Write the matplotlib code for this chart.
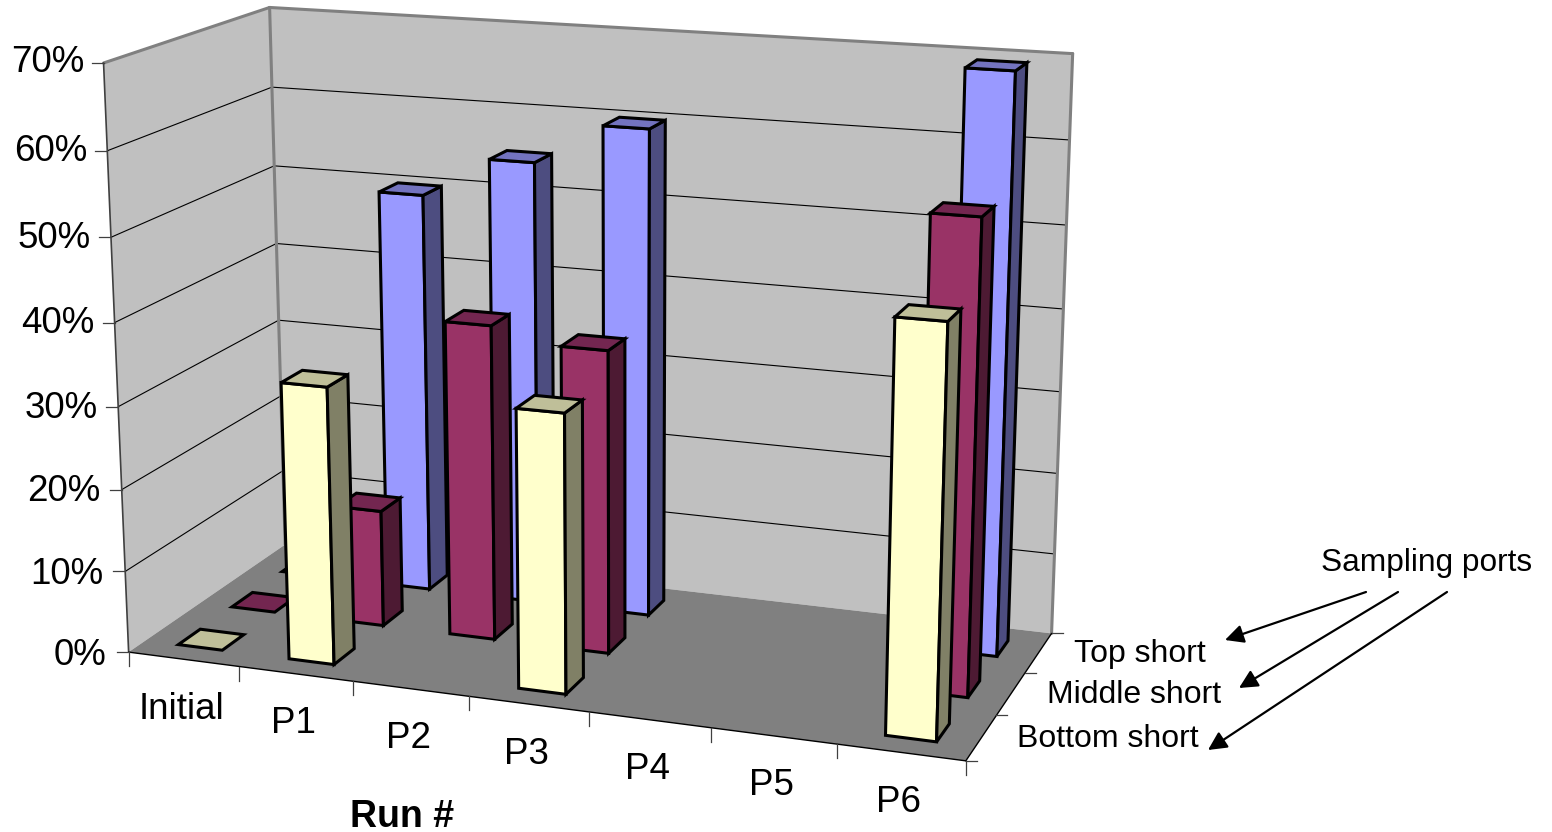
import numpy as np
import matplotlib
matplotlib.use('Agg')
import matplotlib.pyplot as plt
from matplotlib.patches import Polygon

plt.rcParams['font.family'] = ['Liberation Sans', 'DejaVu Sans']

# Data
runs = ['Initial', 'P1', 'P2', 'P3', 'P4', 'P5', 'P6']
ports = ['Bottom short', 'Middle short', 'Top short']
pct_ticks = [0, 10, 20, 30, 40, 50, 60, 70]
bottom_short = [0, 33.5, np.nan, 33.2, np.nan, np.nan, 47.4]
middle_short = [0, 14.4, 38.5, 36.8, np.nan, np.nan, 55.7]
top_short = [0, 50, 55, 60, np.nan, np.nan, 69.4]

# front, side, top colours of each series
bottom_colors = ('#FFFFCC', '#808066', '#BFBF99')
middle_colors = ('#993366', '#4D1A33', '#732650')
top_colors = ('#9999FF', '#4D4D80', '#7373BF')

zmax = pct_ticks[-1]
nx = len(runs)
ny = len(ports)

# Camera: fit a 3x4 projection from the box corners (run, port, pct) -> pixel
world = [(0, 0, 0), (nx, 0, 0), (0, ny, 0), (nx, ny, 0),
         (0, 0, zmax), (0, ny, zmax), (nx, ny, zmax)]
pixel = [(128, 652), (965, 762), (286, 545), (1052, 632),
         (105, 62), (268, 8), (1073, 54)]
rows, rhs = [], []
for (X, Y, Z), (u, v) in zip(world, pixel):
    rows.append([X, Y, Z, 1, 0, 0, 0, 0, -u*X, -u*Y, -u*Z])
    rows.append([0, 0, 0, 0, X, Y, Z, 1, -v*X, -v*Y, -v*Z])
    rhs += [u, v]
sol = np.linalg.lstsq(np.array(rows, float), np.array(rhs, float), rcond=None)[0]
P = np.append(sol, 1).reshape(3, 4)


def proj(x, y, z):
    u, v, w = P @ np.array([x, y, z, 1.0])
    return u / w, v / w


fig = plt.figure(figsize=(15.52, 8.32), dpi=100)
ax = fig.add_axes([0, 0, 1, 1])
ax.set_xlim(0, 1552)
ax.set_ylim(832, 0)
ax.axis('off')


def face(pts, color, edge='none', lw=0, z=1):
    ax.add_patch(Polygon([proj(*p) for p in pts], closed=True, facecolor=color,
                         edgecolor=edge, linewidth=lw, joinstyle='miter', zorder=z))


def seg(a, b, color='black', lw=0.8, z=2):
    pa, pb = proj(*a), proj(*b)
    ax.plot([pa[0], pb[0]], [pa[1], pb[1]], color=color, lw=lw, zorder=z,
            solid_capstyle='round')


# walls and floor
face([(0, 0, 0), (0, ny, 0), (0, ny, zmax), (0, 0, zmax)], '#C0C0C0')
face([(0, ny, 0), (nx, ny, 0), (nx, ny, zmax), (0, ny, zmax)], '#C0C0C0')
face([(0, 0, 0), (nx, 0, 0), (nx, ny, 0), (0, ny, 0)], '#808080')

# gridlines
for p in pct_ticks[1:-1]:
    seg((0, 0, p), (0, ny, p))
    seg((0, ny, p), (nx, ny, p))

# wall borders
seg((0, 0, zmax), (0, ny, zmax), '#808080', 2.2)
seg((0, ny, zmax), (nx, ny, zmax), '#808080', 2.2)
seg((nx, ny, zmax), (nx, ny, 0), '#808080', 2.2)
seg((0, ny, zmax), (0, ny, 0), '#808080', 2.2)
seg((0, 0, 0), (0, 0, zmax), '#404040', 1.2)
seg((0, 0, 0), (nx, 0, 0), '#000000', 1.0)
seg((nx, 0, 0), (nx, ny, 0), '#000000', 1.0)

# ticks and labels on the percent axis
for p in pct_ticks:
    u, v = proj(0, 0, p)
    ax.plot([u - 12, u], [v, v], color='#404040', lw=0.9, zorder=2)
    ax.text(u - 22 + 3 * p / zmax, v - 1 - 3 * p / zmax, f'{p}%', ha='right',
            va='center_baseline', fontsize=26.5, color='black')

# ticks and labels on the run axis
for i in range(nx + 1):
    u, v = proj(i, 0, 0)
    ax.plot([u, u], [v, v + 14], color='#404040', lw=0.9, zorder=2)
for i, name in enumerate(runs):
    u, v = proj(i + 0.5, 0, 0)
    ax.text(u - 2, v + 46, name, ha='center', va='center_baseline', fontsize=26.5, color='black')

# ticks and labels on the port axis
for j in range(ny + 1):
    u, v = proj(nx, j, 0)
    ax.plot([u, u + 11], [v, v], color='#404040', lw=0.9, zorder=2)
for j, name in enumerate(ports):
    u, v = proj(nx, j + 0.5, 0)
    ax.text(u + 36, v - 2, name, ha='left', va='center_baseline', fontsize=23, color='black')

ax.text(402, 813, 'Run #', ha='center', va='center_baseline', fontsize=27, fontweight='bold')
ax.text(1427, 559, 'Sampling ports', ha='center', va='center_baseline', fontsize=22.8)

# arrows from the caption to the port names
for start, end in [((1366, 592), (1225, 640)), ((1398, 592), (1239, 688)), ((1447, 592), (1208, 750))]:
    ax.annotate('', xy=end, xytext=start, zorder=5,
                arrowprops=dict(arrowstyle='-|>', color='black', lw=1.6, mutation_scale=28,
                                shrinkA=0, shrinkB=0))

# columns, back row first so the nearer ones overlap
lo, hi = 0.3, 0.7
series = [(2, top_short, top_colors), (1, middle_short, middle_colors), (0, bottom_short, bottom_colors)]
layer = 3
for j, values, (c_front, c_side, c_top) in series:
    for i, val in enumerate(values):
        if np.isnan(val):
            continue
        x0, x1 = i + lo, i + hi
        y0, y1 = j + lo, j + hi
        if val > 0:
            face([(x0, y0, 0), (x1, y0, 0), (x1, y0, val), (x0, y0, val)], c_front, 'black', 2.2, layer)
            face([(x1, y0, 0), (x1, y1, 0), (x1, y1, val), (x1, y0, val)], c_side, 'black', 2.2, layer)
        face([(x0, y0, val), (x1, y0, val), (x1, y1, val), (x0, y1, val)], c_top, 'black', 2.2, layer)
        layer += 1

fig.savefig('out.png', dpi=100)
